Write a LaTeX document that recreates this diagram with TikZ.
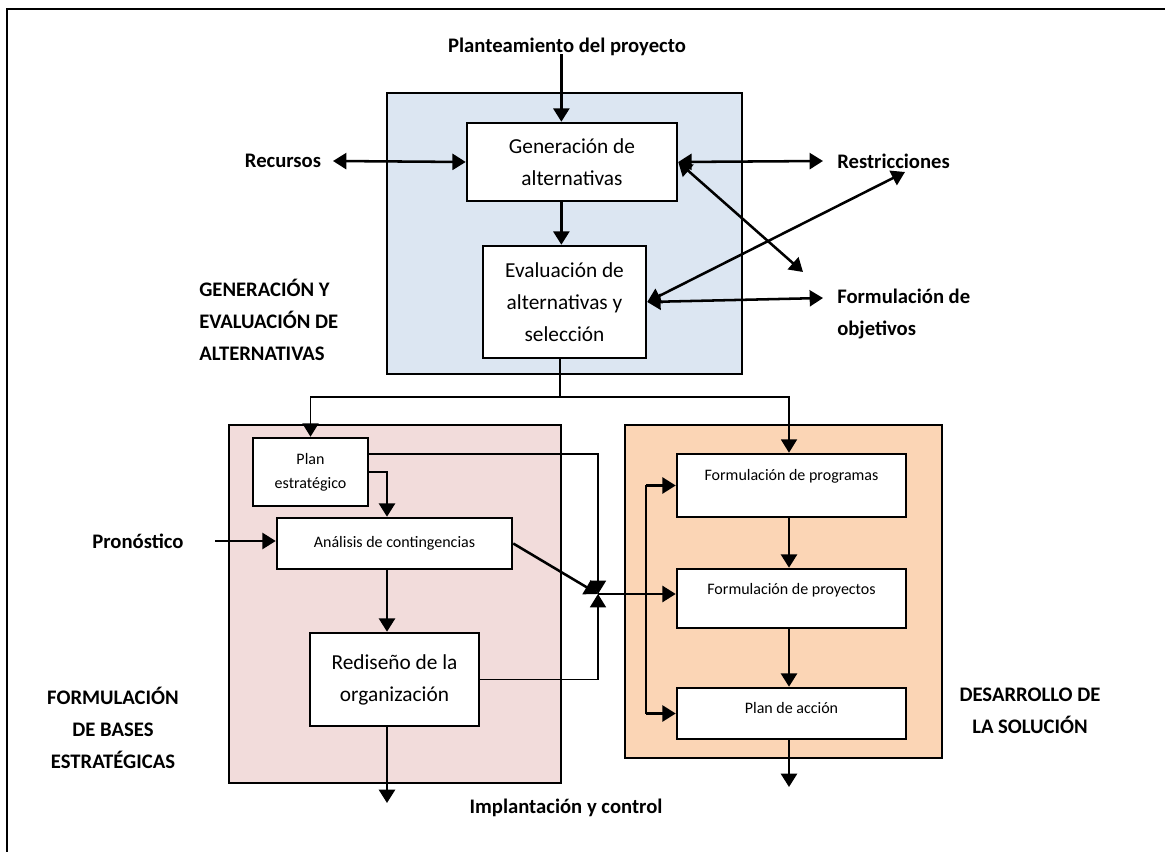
\documentclass[tikz,border=0pt]{standalone}
\usepackage{fontspec}
\setmainfont{Carlito}
\usetikzlibrary{arrows.meta,calc}
\definecolor{bluefill}{HTML}{DCE6F2}
\definecolor{pinkfill}{HTML}{F2DCDB}
\definecolor{orangefill}{HTML}{FBD5B5}
\begin{document}
\begin{tikzpicture}[x=0.75pt,y=-0.75pt,
  line width=1.9pt,
  arr/.style={-{Triangle[length=10pt,width=12pt]}},
  darr/.style={{Triangle[length=10pt,width=12pt]}-{Triangle[length=10pt,width=12pt]}},
  thin link/.style={line width=1.3pt},
  panel/.style 2 args={draw, line width=1.9pt, minimum width=#1*0.75pt, minimum height=#2*0.75pt, inner sep=0pt},
  box/.style 2 args={draw, fill=white, line width=1.9pt, minimum width=#1*0.75pt, minimum height=#2*0.75pt, inner sep=0pt, align=center},
  big/.style={font=\fontsize{16}{24}\selectfont},
  small/.style={font=\fontsize{12}{18}\selectfont},
  lab/.style={font=\bfseries\fontsize{15.5}{24}\selectfont, inner sep=0pt},
]
\useasboundingbox (0,0) rectangle (1165,852);

% page frame (top and left edges)
\draw (7,852) -- (7,9) -- (1165,9);

% stage panels
\node[panel={355}{281}, fill=bluefill] (pgen) at (564.5,233.5) {};
\node[panel={332}{358}, fill=pinkfill] (pbase) at (395,604) {};
\node[panel={317}{333}, fill=orangefill] (pdes) at (783.5,591.5) {};

% process boxes
\node[box={210}{78}, big] (gen) at (572,162) {Generación de\\alternativas};
\node[box={163}{112}, big] (eva) at (564.5,302) {Evaluación de\\alternativas y\\selección};
\node[box={115}{68}, small] (pe) at (310.5,472) {Plan\\estratégico};
\node[box={235}{51}, small] (an) at (394.5,543.5) {Análisis de contingencias};
\node[box={169}{93}, big] (rd) at (394.5,679.5) {Rediseño de la\\organización};
\node[box={229}{63}] (fprog) at (791.5,485.5) {};
\node[box={229}{59}] (fproy) at (791.5,598.5) {};
\node[box={229}{51}] (pa) at (791.5,713.5) {};
\node[small] (tprog) at (791.5,476) {Formulación de programas};
\node[small] (tproy) at (791.5,590) {Formulación de proyectos};
\node[small] (tpa) at (791.5,708) {Plan de acción};

% outside labels
\node[lab] (plant) at (567,47) {Planteamiento del proyecto};
\node[lab] (rec) at (283,161) {Recursos};
\node[lab, anchor=west] (restr) at (836,161) {Restricciones};
\node[lab, anchor=west, align=left] (obj) at (836,314) {Formulación de\\objetivos};
\node[lab, anchor=west, align=left] (lgen) at (198,320) {GENERACIÓN Y\\EVALUACIÓN DE\\ALTERNATIVAS};
\node[lab] (pron) at (138,541) {Pronóstico};
\node[lab, align=center] (lbase) at (113,728) {FORMULACIÓN\\DE BASES\\ESTRATÉGICAS};
\node[lab, align=center] (ldes) at (1030,711) {DESARROLLO DE\\LA SOLUCIÓN};
\node[lab] (impl) at (566,808) {Implantación y control};

% helper points
\coordinate (gx) at ($(gen.north west)!0.45!(gen.north east)$);
\coordinate (split) at (560,397);
\coordinate (colA) at (387,0);
\coordinate (jn) at (598,594);
\coordinate (busx) at (646,0);
\coordinate (c1) at (803,272);
\coordinate (c2) at (905,172);
\coordinate (out1) at (387,803);
\coordinate (out2) at (789,787);

% upper stage connectors
\draw[arr] (plant.south -| gx) ++(0,-3) -- (gx);
\draw[arr] (gen.south -| gx) -- (eva.north -| gx);
\draw[darr] (333,161) -- (gen.west);
\draw[darr] (gen.east) -- (823,161);
\draw[darr] (eva.east) -- (823,298);
\draw[darr] (gen.east) -- (c1);
\draw[darr] (eva.east) -- (c2);

% hand-off to the lower stages
\draw[thin link] (eva.south -| split) -- (split);
\draw[arr, thin link] (split) -| (pe.north);
\draw[arr, thin link] (split) -| (fprog.north -| out2);

% strategic bases
\draw[arr] (pe.east) -| (an.north -| colA);
\draw[arr, thin link] ($(pe.north east)+(0,17)$) -| (jn);
\draw[arr] (215,541) -- (an.west |- pron.east);
\draw[arr] (an.east) -- (jn);
\draw[arr] (an.south -| colA) -- (rd.north -| colA);
\draw[arr, thin link] (rd.east) -| (jn);
\draw[arr] (rd.south -| colA) -- (out1);

% solution development
\draw[arr] (jn) -- (fproy.west |- jn);
\draw[arr] (fprog.south -| out2) -- (fproy.north -| out2);
\draw[arr] (fproy.south -| out2) -- (pa.north -| out2);
\draw[arr] (pa.south -| out2) -- (out2);
\draw (fprog.west -| busx) -- (pa.west -| busx);
\draw[arr] (fprog.west -| busx) -- (fprog.west);
\draw[arr] (pa.west -| busx) -- (pa.west);
\end{tikzpicture}
\end{document}
